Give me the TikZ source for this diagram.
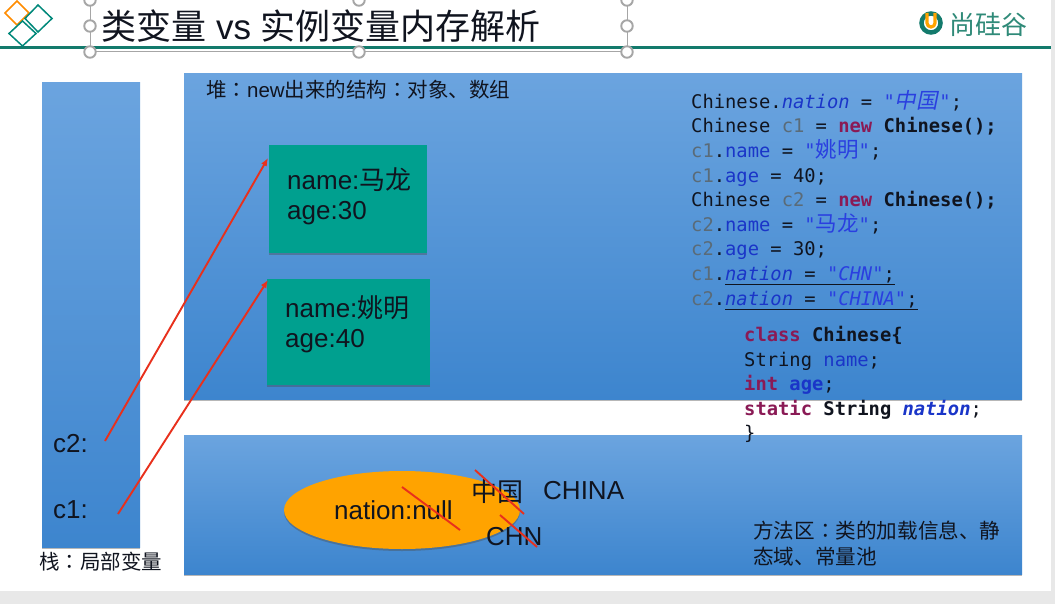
\documentclass[tikz,border=0pt]{standalone}
\usepackage{fontspec}
\setmainfont{Liberation Sans}
\newfontfamily\cjk{Noto Sans CJK SC}
\newfontfamily\cjktc{Noto Sans CJK TC}
\newfontfamily\cjkslant[FakeSlant=0.2]{Noto Sans CJK SC}
\newfontfamily\codefont{DejaVu Sans Mono}
\usetikzlibrary{shadows,arrows.meta,shapes.geometric}
\definecolor{boxtop}{HTML}{6BA4DF}
\definecolor{boxbot}{HTML}{3D85CE}
\definecolor{tealbox}{HTML}{00A08F}
\definecolor{teal2}{HTML}{137A6C}
\definecolor{logotxt}{HTML}{2F8A78}
\definecolor{orangeel}{HTML}{FFA300}
\definecolor{handle}{HTML}{A6A6A6}
\definecolor{inktext}{HTML}{10141F}
\definecolor{cvar}{HTML}{5A6B78}
\definecolor{fieldc}{HTML}{1A35C8}
\definecolor{kwc}{HTML}{8A1A55}
\definecolor{strc}{HTML}{2A3FE0}
\definecolor{redln}{HTML}{E8301C}
\newcommand{\cc}[1]{{\color{cvar}#1}}
\newcommand{\ff}[1]{{\color{fieldc}#1}}
\newcommand{\kw}[1]{{\color{kwc}\bfseries #1}}
\newcommand{\st}[1]{{\color{strc}#1}}
\newcommand{\cjks}[1]{{\color{strc}\fontsize{21.5}{21.5}\selectfont\cjk #1}}
\newcommand{\cjksi}[1]{{\color{strc}\fontsize{21.5}{21.5}\selectfont\cjkslant #1}}
\tikzset{
 x=1pt,y=-1pt,
 softshadow/.style={drop shadow={shadow xshift=0pt,shadow yshift=-2pt,opacity=.4,fill=black!70}},
 bluebox/.style={rectangle,minimum width=#1,top color=boxtop,bottom color=boxbot,draw=none,inner sep=0,softshadow},
 tealnode/.style={rectangle,fill=tealbox,draw=none,inner sep=0,anchor=north west,softshadow},
 txt/.style={anchor=west,inner sep=0,text=inktext,font=\fontsize{#1}{#1}\selectfont},
 code/.style={anchor=north west,inner sep=0,align=left,text=inktext,
   font=\codefont\fontsize{18.8}{24.6}\selectfont},
 handlenode/.style={circle,draw=handle,fill=white,line width=1.9pt,minimum size=11.5pt,inner sep=0},
 redline/.style={draw=redln,line width=1.9pt},
 redarrow/.style={redline,-{Latex[length=8pt,width=6.5pt]}},
}
\begin{document}
\begin{tikzpicture}
\useasboundingbox (0,0) rectangle (1055,604);
\fill[white] (0,0) rectangle (1055,604);
% window edges
\fill[black!9] (0,591) rectangle (1055,604);
\fill[black!9] (1051,0) rectangle (1055,604);
% header rule
\fill[teal2] (0,46) rectangle (1051,49);
% corner diamonds
\draw[draw=orange!90!yellow,line width=1.5pt] (17,1) -- (29,13) -- (17,25) -- (5,13) -- cycle;
\draw[draw=tealbox!85!black,line width=1.5pt] (38,5) -- (52,18.5) -- (38,32) -- (25,18.5) -- cycle;
\draw[draw=tealbox!85!black,line width=1.5pt] (22.5,21) -- (36,33.5) -- (22.5,46) -- (9,33.5) -- cycle;
% title selection frame
\node[draw=handle,line width=1.4pt,minimum width=537pt,minimum height=52pt,inner sep=0,anchor=south west] (frame) at (90,52) {};
\node[handlenode] (h1) at (90,0) {};
\node[handlenode] (h2) at (359,0) {};
\node[handlenode] (h3) at (627,0) {};
\node[handlenode] (h4) at (90,26) {};
\node[handlenode] (h5) at (627,26) {};
\node[handlenode] (h6) at (90,52) {};
\node[handlenode] (h7) at (359,52) {};
\node[handlenode] (h8) at (627,52) {};
\node[txt=35] (title) at (101,26) {\cjk 类变量\ \kern2pt{\rmfamily vs}\kern2pt\ 实例变量内存解析};
% logo
\draw[teal2,line width=4.5pt] (931,23) circle (9.5pt);
\draw[orangeel,line width=3.2pt] (927,13) -- (927,23) arc[start angle=180,end angle=360,radius=4pt] -- (935,13);
\node[txt=26,text=logotxt] (logo) at (949,25) {\cjk 尚硅谷};
% blue regions
\node[bluebox=98pt,minimum height=465pt,anchor=north west] (stack) at (42,82) {};
\node[bluebox=838pt,minimum height=326pt,anchor=north west] (heap) at (184,73) {};
\node[bluebox=838pt,minimum height=139pt,anchor=north west] (method) at (184,435) {};
% heap objects
\node[tealnode,minimum width=158pt,minimum height=108pt] (obj1) at (269,145) {};
\node[tealnode,minimum width=163pt,minimum height=106pt] (obj2) at (267,279) {};
\node[txt=26] (o1a) at (287,180) {name:{\cjk 马龙}};
\node[txt=26] (o1b) at (287,213) {age:30};
\node[txt=26] (o2a) at (285,308) {name:{\cjk 姚明}};
\node[txt=26] (o2b) at (285,341) {age:40};
% labels
\node[txt=20.5] (heaplbl) at (206,90) {\cjk 堆{\cjktc ：}{\rmfamily new}出来的结构{\cjktc ：}对象、数组};
\node[txt=20.5] (stacklbl) at (39,562) {\cjk 栈{\cjktc ：}局部变量};
\node[txt=26] (c2) at (53,444) {c2:};
\node[txt=26] (c1) at (53,510) {c1:};
\node[anchor=north west,inner sep=0,text=inktext,align=left,font=\cjk\fontsize{20.6}{26}\selectfont] (methodlbl) at (753,521) {方法区{\cjktc ：}类的加载信息、静\\态域、常量池};
% ellipse and static values
\node[ellipse,fill=orangeel,draw=none,minimum width=236pt,minimum height=78pt,inner sep=0,softshadow] (static) at (402,510) {};
\node[txt=26] (nullv) at (334,510) {nation:null};
\node[txt=26] (zg) at (471,492) {\cjk 中国};
\node[txt=26] (china) at (543,491) {CHINA};
\node[txt=26] (chn) at (486,537) {CHN};
% code
\node[code] (code1) at (691,90) {Chinese.{\color{fieldc}\itshape nation} = \st{\itshape "}\cjksi{中国}\kern1.5pt\st{\itshape "};\\
Chinese \cc{c1} = \kw{new} \textbf{Chinese();}\\
\cc{c1}.\ff{name} = \st{"}\cjks{姚明}\st{"};\\
\cc{c1}.\ff{age} = 40;\\
Chinese \cc{c2} = \kw{new} \textbf{Chinese();}\\
\cc{c2}.\ff{name} = \st{"}\cjks{马龙}\st{"};\\
\cc{c2}.\ff{age} = 30;\\
\cc{c1}.\underline{{\color{fieldc}\itshape nation} = \st{\itshape "CHN"};}\\
\cc{c2}.\underline{{\color{fieldc}\itshape nation} = \st{\itshape "CHINA"};}};
\node[code] (code2) at (744,326) {\kw{class} \textbf{Chinese\{}\\
String \ff{name};\\
\kw{int} \textbf{\color{fieldc}age};\\
\kw{static} \textbf{String} {\color{fieldc}\bfseries\itshape nation};\\
\}};
% connectors
\coordinate (c2from) at (105,441);
\coordinate (c1from) at (118,514);
\coordinate (obj1in) at (268,158);
\coordinate (obj2in) at (268,280);
\draw[redarrow] (c2from) -- (obj1in);
\draw[redarrow] (c1from) -- (obj2in);
% crossings
\coordinate (s1a) at (402,487); \coordinate (s1b) at (460,530);
\coordinate (s2a) at (475,470); \coordinate (s2b) at (524,514);
\coordinate (s3a) at (500,515); \coordinate (s3b) at (537,547);
\draw[redline] (s1a) -- (s1b);
\draw[redline] (s2a) -- (s2b);
\draw[redline] (s3a) -- (s3b);
\end{tikzpicture}
\end{document}
